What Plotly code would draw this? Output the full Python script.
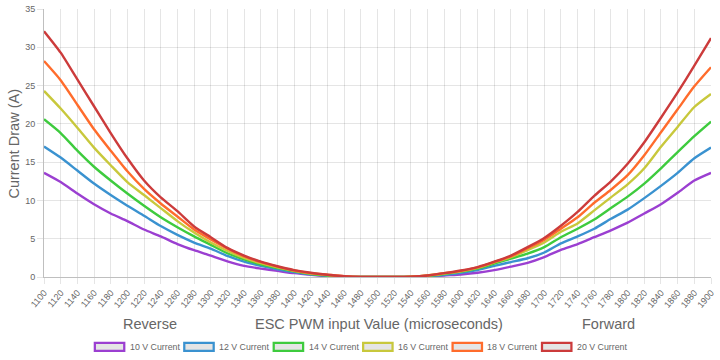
import plotly.graph_objects as go

pwm = list(range(1100, 1901, 20))

names = ["10 V Current", "12 V Current", "14 V Current", "16 V Current", "18 V Current", "20 V Current"]
colors = ["#9b3fd1", "#3a92d0", "#3ecb3e", "#c8c83c", "#ff6c2c", "#cc3b3b"]

current_10v = [13.6, 12.4, 10.9, 9.5, 8.3, 7.3, 6.2, 5.3, 4.3, 3.5, 2.8, 2.05, 1.45, 1.1, 0.8, 0.5, 0.28, 0.1, 0.0, 0.0, 0.0,
               0.0, 0.0, 0.05, 0.2, 0.33, 0.55, 0.9, 1.35, 1.85, 2.6, 3.55, 4.3, 5.2, 6.1, 7.1, 8.3, 9.5, 11.0, 12.6, 13.6]
current_12v = [17.05, 15.6, 13.9, 12.2, 10.7, 9.3, 8.0, 6.65, 5.5, 4.5, 3.7, 2.75, 2.0, 1.45, 1.0, 0.65, 0.35, 0.15, 0.03, 0.0, 0.0,
               0.0, 0.02, 0.1, 0.3, 0.55, 0.9, 1.45, 1.95, 2.45, 3.2, 4.4, 5.3, 6.3, 7.6, 8.8, 10.3, 11.9, 13.6, 15.5, 16.9]
current_14v = [20.6, 18.8, 16.5, 14.4, 12.6, 10.9, 9.3, 7.8, 6.5, 5.3, 4.2, 3.1, 2.3, 1.65, 1.15, 0.75, 0.4, 0.2, 0.05, 0.0, 0.0,
               0.0, 0.03, 0.15, 0.4, 0.7, 1.1, 1.75, 2.4, 3.05, 3.9, 5.2, 6.3, 7.5, 9.0, 10.5, 12.2, 14.2, 16.3, 18.4, 20.3]
current_16v = [24.3, 22.0, 19.5, 16.9, 14.6, 12.4, 10.7, 9.0, 7.3, 5.8, 4.5, 3.4, 2.5, 1.8, 1.25, 0.8, 0.45, 0.25, 0.08, 0.0, 0.0,
               0.0, 0.05, 0.2, 0.45, 0.75, 1.2, 1.9, 2.6, 3.5, 4.5, 5.9, 7.0, 8.7, 10.4, 12.1, 14.2, 17.0, 19.6, 22.2, 23.9]
current_18v = [28.2, 25.7, 22.5, 19.3, 16.5, 13.8, 11.5, 9.6, 7.9, 6.2, 4.9, 3.7, 2.7, 1.95, 1.35, 0.85, 0.5, 0.3, 0.1, 0.0, 0.0,
               0.0, 0.05, 0.2, 0.5, 0.8, 1.25, 1.95, 2.7, 3.75, 4.85, 6.3, 7.8, 9.7, 11.4, 13.3, 15.9, 18.9, 21.9, 24.9, 27.4]
current_20v = [32.1, 29.3, 25.8, 22.3, 18.8, 15.5, 12.6, 10.4, 8.6, 6.6, 5.2, 3.8, 2.8, 2.0, 1.4, 0.9, 0.55, 0.3, 0.1, 0.0, 0.0,
               0.0, 0.05, 0.2, 0.5, 0.85, 1.3, 2.0, 2.8, 3.9, 5.1, 6.7, 8.5, 10.6, 12.5, 14.8, 17.6, 20.8, 24.1, 27.6, 31.2]

series = [current_10v, current_12v, current_14v, current_16v, current_18v, current_20v]

x_ticks = list(range(1100, 1901, 20))
y_ticks = [0, 5, 10, 15, 20, 25, 30, 35]

W, H = 720, 360
L, R, T, B = 44, 7, 4, 83
PW, PH = W - L - R, H - T - B


def px(x):
    return (x - L) / PW


def py(y):
    return (H - B - y) / PH


FONT = "Liberation Sans, Arial, sans-serif"
TXT = "#666666"
GRID = "rgba(0,0,0,0.1)"

fig = go.Figure()
for name, col, ys in zip(names, colors, series):
    fig.add_trace(go.Scatter(
        x=pwm, y=ys, name=name, mode="lines",
        line=dict(color=col, width=2.4, shape="spline", smoothing=0.6),
        showlegend=False, hoverinfo="skip",
    ))

shapes = []
annotations = []

# custom legend
box_x0 = 95.0
pitch = 89.7
box_w, box_h = 29.5, 8.0
leg_y = 348.2
for i, (name, col) in enumerate(zip(names, colors)):
    x0 = box_x0 + i * pitch
    shapes.append(dict(
        type="rect", xref="paper", yref="paper",
        x0=px(x0), x1=px(x0 + box_w), y0=py(leg_y + box_h / 2), y1=py(leg_y - box_h / 2),
        line=dict(color=col, width=2.25), fillcolor="rgba(0,0,0,0.1)", layer="above",
    ))
    annotations.append(dict(
        text=name, xref="paper", yref="paper", x=px(x0 + box_w + 4.5), y=py(leg_y),
        xanchor="left", yanchor="middle", showarrow=False, borderpad=0,
        font=dict(family=FONT, size=8.8, color=TXT),
    ))

# axis titles
for txt, cx in [("Reverse", 150), ("ESC PWM input Value (microseconds)", 380), ("Forward", 610)]:
    annotations.append(dict(
        text=txt, xref="paper", yref="paper", x=px(cx), y=py(324.5),
        xanchor="center", yanchor="middle", showarrow=False,
        font=dict(family=FONT, size=14.5, color=TXT),
    ))
annotations.append(dict(
    text="Current Draw (A)", xref="paper", yref="paper", x=px(14), y=py(141),
    xanchor="center", yanchor="middle", showarrow=False, textangle=-90,
    font=dict(family=FONT, size=14.5, color=TXT),
))

fig.update_layout(
    width=W, height=H,
    margin=dict(l=L, r=R, t=T, b=B),
    paper_bgcolor="white", plot_bgcolor="white",
    shapes=shapes, annotations=annotations,
    showlegend=False,
    font=dict(family=FONT, size=9, color=TXT),
)
fig.update_xaxes(
    range=[1100, 1900], tickmode="array", tickvals=x_ticks, ticktext=[str(v) for v in x_ticks],
    tickangle=-50, tickfont=dict(family=FONT, size=9, color=TXT),
    showgrid=True, gridcolor=GRID, gridwidth=1,
    showline=True, linecolor="rgba(0,0,0,0.25)", linewidth=1,
    ticks="outside", ticklen=6, tickcolor=GRID, zeroline=False,
    ticklabeloverflow="allow",
)
fig.update_yaxes(
    range=[0, 35], tickmode="array", tickvals=y_ticks,
    tickfont=dict(family=FONT, size=9, color=TXT),
    showgrid=True, gridcolor=GRID, gridwidth=1,
    showline=True, linecolor="rgba(0,0,0,0.25)", linewidth=1,
    ticks="outside", ticklen=6, tickcolor=GRID, zeroline=False,
    ticklabeloverflow="allow",
)

fig.write_html(
    "out.html",
    config={"displayModeBar": False},
    post_script="document.body.style.margin='0';document.body.style.padding='0';",
)
